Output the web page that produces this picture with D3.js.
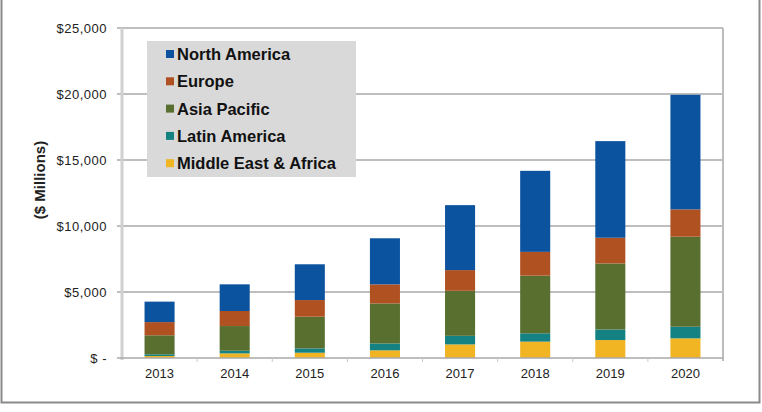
<!DOCTYPE html>
<html>
<head>
<meta charset="utf-8">
<script src="https://cdn.jsdelivr.net/npm/d3@7"></script>
<style>
  body { margin: 0; background: #fff; }
  svg { display: block; font-family: "Liberation Sans", Arial, sans-serif; }
</style>
</head>
<body>
<svg id="chart" width="762" height="412"></svg>
<script>
// data ($ millions)
var years = ["2013", "2014", "2015", "2016", "2017", "2018", "2019", "2020"]
var regions = ["Middle East & Africa", "Latin America", "Asia Pacific", "Europe", "North America"]
var middleEast = [150, 350, 400, 580, 1030, 1240, 1360, 1490]
var latinAmerica = [130, 200, 330, 520, 650, 630, 800, 880]
var asiaPacific = [1440, 1870, 2400, 3030, 3410, 4370, 5000, 6820]
var europe = [1000, 1140, 1260, 1450, 1570, 1800, 1950, 2070]
var northAmerica = [1550, 2020, 2710, 3490, 4920, 6140, 7320, 8680]
var yTicks = [0, 5000, 10000, 15000, 20000, 25000]

var colors = {
  "North America": "#0b529f",
  "Europe": "#b05122",
  "Asia Pacific": "#586f30",
  "Latin America": "#148182",
  "Middle East & Africa": "#f1b523"
}

var table = years.map(function(y, i) {
  return {
    year: y,
    "Middle East & Africa": middleEast[i],
    "Latin America": latinAmerica[i],
    "Asia Pacific": asiaPacific[i],
    "Europe": europe[i],
    "North America": northAmerica[i]
  }
})

var svg = d3.select("#chart")

// outer frame (no top edge visible)
svg.append("path")
  .attr("d", "M1.5,0 V402.5 H759.5 V0")
  .attr("fill", "none")
  .attr("stroke", "#8a8a8a")
  .attr("stroke-width", 2)

var plotLeft = 122, plotRight = 723, plotTop = 28, plotBottom = 358

var x = d3.scaleBand().domain(years).range([plotLeft, plotRight]).paddingInner(0.6).paddingOuter(0.3)
var xb = d3.scaleBand().domain(years).range([plotLeft, plotRight])
var y = d3.scaleLinear().domain([0, 25000]).range([plotBottom, plotTop])

// gridlines + y tick marks
svg.append("g")
  .selectAll("line")
  .data(yTicks.slice(1))
  .enter()
  .append("line")
  .attr("x1", plotLeft - 5)
  .attr("x2", plotRight)
  .attr("y1", function(d) { return y(d) })
  .attr("y2", function(d) { return y(d) })
  .attr("stroke", "#a8a8a8")
  .attr("stroke-width", 1.6)

// right frame of plot
svg.append("line")
  .attr("x1", plotRight).attr("x2", plotRight)
  .attr("y1", plotTop).attr("y2", plotBottom + 3)
  .attr("stroke", "#bdbdbd")
  .attr("stroke-width", 2)

// y labels
var fmt = d3.format("$,")
svg.append("g")
  .selectAll("text")
  .data(yTicks)
  .enter()
  .append("text")
  .attr("x", 107)
  .attr("y", function(d) { return y(d) })
  .attr("dy", "0.35em")
  .attr("text-anchor", "end")
  .style("font-size", "13px")
  .style("letter-spacing", "0.5px")
  .style("fill", "#222")
  .text(function(d) { return d === 0 ? "$ -" : fmt(d) })

// y axis title
svg.append("text")
  .attr("transform", "translate(45,180) rotate(-90)")
  .attr("text-anchor", "middle")
  .style("font-size", "15px")
  .style("font-weight", "bold")
  .style("fill", "#222")
  .text("($ Millions)")

// stacked bars
var series = d3.stack().keys(regions)(table)

svg.append("g")
  .selectAll("g")
  .data(series)
  .enter()
  .append("g")
  .attr("fill", function(d) { return colors[d.key] })
  .selectAll("rect")
  .data(function(d) { return d })
  .enter()
  .append("rect")
  .attr("x", function(d) { return x(d.data.year) })
  .attr("width", x.bandwidth())
  .attr("y", function(d) { return y(d[1]) })
  .attr("height", function(d) { return y(d[0]) - y(d[1]) })

// left axis line (light)
svg.append("line")
  .attr("x1", plotLeft).attr("x2", plotLeft)
  .attr("y1", plotTop).attr("y2", plotBottom + 2)
  .attr("stroke", "#d0d0d0")
  .attr("stroke-width", 3)

// x axis
var xAxis = svg.append("g")
xAxis.append("line")
  .attr("x1", plotLeft - 5).attr("x2", plotRight)
  .attr("y1", plotBottom).attr("y2", plotBottom)
  .attr("stroke", "#a8a8a8")
  .attr("stroke-width", 1.6)

xAxis.selectAll(".tk")
  .data(years.slice(1))
  .enter()
  .append("line")
  .attr("x1", function(d) { return xb(d) })
  .attr("x2", function(d) { return xb(d) })
  .attr("y1", plotBottom)
  .attr("y2", plotBottom + 4)
  .attr("stroke", "#c8c8c8")

xAxis.selectAll("text")
  .data(years)
  .enter()
  .append("text")
  .attr("x", function(d) { return xb(d) + xb.bandwidth() / 2 })
  .attr("y", 378)
  .attr("text-anchor", "middle")
  .style("font-size", "13px")
  .style("fill", "#222")
  .text(function(d) { return d })

// legend
var legendKeys = regions.slice().reverse()
var legend = svg.append("g")
legend.append("rect")
  .attr("x", 147).attr("y", 41)
  .attr("width", 209).attr("height", 136)
  .attr("fill", "#d9d9d9")

var item = legend.selectAll(".item")
  .data(legendKeys)
  .enter()
  .append("g")
  .attr("transform", function(d, i) { return "translate(166," + (54 + i * 27.3) + ")" })

item.append("rect")
  .attr("x", 0).attr("y", -4)
  .attr("width", 8).attr("height", 8)
  .attr("fill", function(d) { return colors[d] })

item.append("text")
  .attr("x", 11)
  .attr("dy", "0.36em")
  .style("font-size", "16.5px")
  .style("font-weight", "bold")
  .style("fill", "#111")
  .text(function(d) { return d })
</script>
</body>
</html>
